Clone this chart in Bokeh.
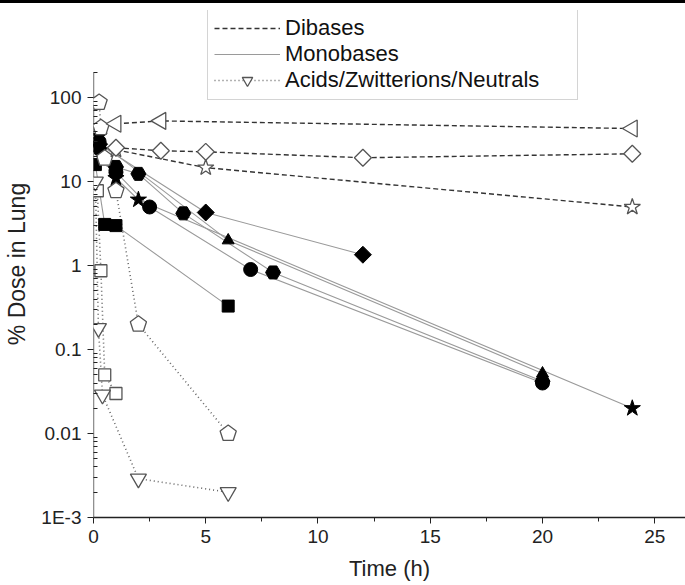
import numpy as np
from bokeh.plotting import figure
from bokeh.layouts import column
from bokeh.models import Range1d, FixedTicker, Legend, LegendItem, Div
from bokeh.embed import file_html
from bokeh.resources import INLINE

# ---------------- data (time in h, % dose in lung) ----------------
# Dibases (dashed, open markers)
dib_tri_t = [1, 3, 24]
dib_tri_v = [49, 53, 43]
dib_dia_t = [1, 3, 5, 12, 24]
dib_dia_v = [25.4, 23.4, 22.7, 19.3, 21.5]
dib_star_t = [1, 5, 24]
dib_star_v = [24, 14.7, 5.0]

# Monobases (solid grey lines, filled markers)
mono_sq_t = [0.083, 0.5, 1, 6]
mono_sq_v = [16, 3.1, 3.0, 0.33]
mono_circ_t = [0.25, 1, 2.5, 7, 20]
mono_circ_v = [30, 13, 5.0, 0.9, 0.04]
mono_hex_t = [0.25, 1, 2, 4, 8, 20]
mono_hex_v = [25, 15, 12.4, 4.2, 0.83, 0.042]
mono_star_t = [0.25, 1, 2, 24]
mono_star_v = [35, 11, 6.1, 0.02]
mono_tri_t = [0.25, 6, 20]
mono_tri_v = [30, 2.0, 0.052]
mono_dia_t = [0.25, 5, 12]
mono_dia_v = [28, 4.3, 1.35]

# Acids / Zwitterions / Neutrals (dotted, open markers)
acid_pent_t = [0.25, 0.33, 0.5, 1, 2, 6]
acid_pent_v = [88, 44, 19, 7.8, 0.2, 0.01]
acid_sq_t = [0.17, 0.33, 0.5, 1]
acid_sq_v = [7.8, 0.87, 0.05, 0.03]
acid_tri_t = [0.083, 0.22, 0.4, 2, 6]
acid_tri_v = [10, 0.18, 0.029, 0.0029, 0.002]

x_ticks = [0, 5, 10, 15, 20, 25]
x_minor = [2.5, 7.5, 12.5, 17.5, 22.5]
y_ticks = [0.001, 0.01, 0.1, 1, 10, 100]
y_labels = {0.001: "1E-3", 0.01: "0.01", 0.1: "0.1", 1: "1", 10: "10", 100: "100"}

# ---------------- geometry ----------------
X0, X1 = 0, 26.37
Y0, Y_AXIS_TOP = 0.001, 200
TOP_BAR = 3
FRAME_LEFT, FRAME_BOTTOM = 93, 517      # page px
AXIS_TOP_PX, FRAME_TOP_PX = 72, 10      # page px
FW = 685 - FRAME_LEFT
FH = FRAME_BOTTOM - FRAME_TOP_PX
dec_per_px = (np.log10(Y_AXIS_TOP) - np.log10(Y0)) / (FRAME_BOTTOM - AXIS_TOP_PX)
Y1 = Y_AXIS_TOP * 10 ** ((AXIS_TOP_PX - FRAME_TOP_PX) * dec_per_px)
FONT = "Liberation Sans"

p = figure(width=685, height=585 - TOP_BAR, y_axis_type="log",
           x_range=Range1d(X0, X1), y_range=Range1d(Y0, Y1),
           output_backend="svg", toolbar_location=None,
           min_border_left=FRAME_LEFT, min_border_right=0,
           min_border_top=FRAME_TOP_PX - TOP_BAR, min_border_bottom=585 - FRAME_BOTTOM)
p.outline_line_color = None
p.grid.visible = False
p.background_fill_color = "white"
p.border_fill_color = "white"

y_minor = [k * 10.0 ** e for e in range(-3, 3) for k in range(2, 10) if k * 10.0 ** e <= Y_AXIS_TOP]
p.xaxis.ticker = FixedTicker(ticks=x_ticks, minor_ticks=x_minor)
p.yaxis.ticker = FixedTicker(ticks=y_ticks, minor_ticks=y_minor)
p.yaxis.major_label_overrides = y_labels

AX_C = "#222222"
for ax in (p.xaxis[0], p.yaxis[0]):
    ax.axis_line_color = AX_C
    ax.axis_line_width = 1.3
    ax.major_tick_line_color = AX_C
    ax.minor_tick_line_color = AX_C
    ax.major_label_text_font = FONT
    ax.major_label_text_font_size = "19px"
    ax.major_label_text_color = AX_C
    ax.axis_label_text_font = FONT
    ax.axis_label_text_font_style = "normal"
    ax.axis_label_text_color = AX_C

p.xaxis.axis_label = "Time (h)"
p.xaxis.axis_label_text_font_size = "22px"
p.xaxis.major_tick_out = 6
p.xaxis.major_tick_in = 0
p.xaxis.minor_tick_out = 4
p.xaxis.minor_tick_in = 0
p.xaxis.major_label_standoff = 6
p.xaxis.axis_label_standoff = 10

p.yaxis.axis_label = "% Dose in Lung"
p.yaxis.axis_label_text_font_size = "23px"
p.yaxis.axis_line_color = None          # drawn below only up to the axis top
p.yaxis.major_tick_out = 6
p.yaxis.major_tick_in = 0
p.yaxis.minor_tick_out = 0
p.yaxis.minor_tick_in = 4
p.yaxis.major_label_standoff = 6
p.yaxis.axis_label_standoff = 8

p.segment(x0=[X0], y0=[Y0], x1=[X0], y1=[Y_AXIS_TOP], line_color=AX_C, line_width=1.3)

DASH_C = "#333333"
MONO_C = "#9a9a9a"
DOT_C = "#666666"
OPEN_C = "#555555"

# ---------------- lines ----------------
mono_lines = []
for t, v in [(mono_sq_t, mono_sq_v), (mono_circ_t, mono_circ_v), (mono_hex_t, mono_hex_v),
             (mono_star_t, mono_star_v), (mono_tri_t, mono_tri_v), (mono_dia_t, mono_dia_v)]:
    mono_lines.append(p.line(t, v, line_color=MONO_C, line_width=1.1))

acid_lines = []
for t, v in [(acid_pent_t, acid_pent_v), (acid_sq_t, acid_sq_v), (acid_tri_t, acid_tri_v)]:
    acid_lines.append(p.line(t, v, line_color=DOT_C, line_width=1.6, line_dash="1 3"))

dib_lines = []
for t, v in [(dib_tri_t, dib_tri_v), (dib_dia_t, dib_dia_v), (dib_star_t, dib_star_v)]:
    dib_lines.append(p.line(t, v, line_color=DASH_C, line_width=1.4, line_dash="5 3"))

# ---------------- markers ----------------
filled = dict(fill_color="black", line_color="black")
p.scatter(mono_sq_t, mono_sq_v, marker="square", size=12, **filled)
p.scatter(mono_hex_t, mono_hex_v, marker="hex", size=15, **filled)
p.scatter(mono_circ_t, mono_circ_v, marker="circle", size=14, **filled)
p.scatter(mono_star_t, mono_star_v, marker="star", size=17, **filled)
p.scatter(mono_tri_t, mono_tri_v, marker="triangle", size=12, **filled)
p.scatter(mono_dia_t, mono_dia_v, marker="square", angle=np.pi / 4, size=12, **filled)

opened = dict(fill_color="white", line_color=OPEN_C, line_width=1.3)


def pentagons(ts, vs, r_px):
    hpp = (X1 - X0) / FW
    ang = np.pi / 2 + np.arange(5) * 2 * np.pi / 5
    xs, ys = [], []
    for t, v in zip(ts, vs):
        xs.append(list(t + r_px * np.cos(ang) * hpp))
        ys.append(list(v * 10 ** (r_px * np.sin(ang) * dec_per_px)))
    return xs, ys


pxs, pys = pentagons(acid_pent_t, acid_pent_v, 8.5)
p.patches(pxs, pys, **opened)
p.scatter(acid_sq_t, acid_sq_v, marker="square", size=12, **opened)
acid_tri_r = p.scatter(acid_tri_t, acid_tri_v, marker="inverted_triangle", size=16, **opened)

p.scatter(dib_star_t, dib_star_v, marker="star", size=17, **opened)
p.scatter(dib_dia_t, dib_dia_v, marker="square", angle=np.pi / 4, size=12, **opened)
p.scatter(dib_tri_t, dib_tri_v, marker="triangle", angle=np.pi / 2, size=17, **opened)

# ---------------- legend ----------------
LEG_LEFT, LEG_BOTTOM = 207, 100   # page px
legend = Legend(items=[
    LegendItem(label="Dibases", renderers=[dib_lines[0]]),
    LegendItem(label="Monobases", renderers=[mono_lines[0]]),
    LegendItem(label="Acids/Zwitterions/Neutrals", renderers=[acid_lines[0], acid_tri_r]),
], location=(LEG_LEFT - FRAME_LEFT, FRAME_BOTTOM - LEG_BOTTOM))
legend.label_text_font = FONT
legend.label_text_font_size = "22px"
legend.label_text_color = "#111111"
legend.glyph_width = 66
legend.glyph_height = 26
legend.label_height = 26
legend.label_width = 286
legend.spacing = 0
legend.padding = 6
legend.margin = 0
legend.label_standoff = 5
legend.border_line_color = "#aaaaaa"
legend.border_line_width = 1
legend.background_fill_alpha = 1
p.add_layout(legend, "center")

bar = Div(text="", width=685, height=TOP_BAR, margin=0,
          styles={"background-color": "black"})
layout = column(bar, p, spacing=0)

open("out.html", "w").write(file_html(layout, INLINE))
